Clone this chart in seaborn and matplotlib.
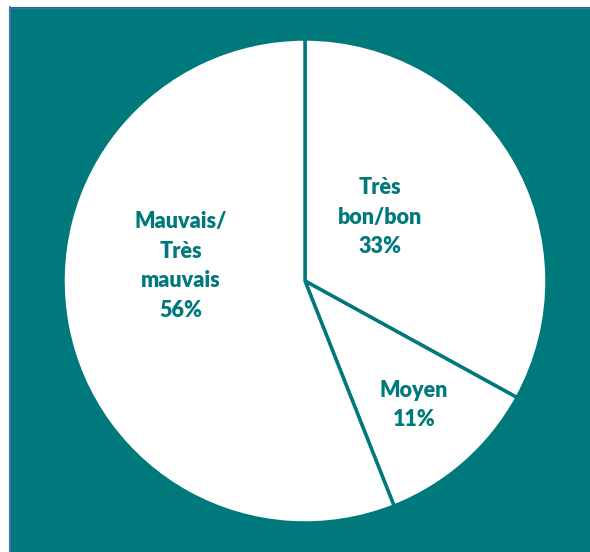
import matplotlib
matplotlib.use("Agg")
import matplotlib.pyplot as plt
import seaborn as sns
from matplotlib.patches import Rectangle

sns.set_theme(style="white")
plt.rcParams['font.family'] = ['Lato', 'DejaVu Sans']

categories = ["Très\nbon/bon", "Moyen", "Mauvais/\nTrès\nmauvais"]
values = [33, 11, 56]

TEAL = "#00797C"
W, H = 590, 552
fig = plt.figure(figsize=(W / 100, H / 100), dpi=100)
fig.patch.set_facecolor("white")

# teal background panel
bg = Rectangle((9 / W, 0), 1 - 9 / W, 1 - 7 / H, transform=fig.transFigure,
               facecolor=TEAL, edgecolor="none", zorder=-10)
fig.add_artist(bg)
fig.add_artist(plt.Line2D([9.5 / W, 9.5 / W], [0, 1 - 7 / H], transform=fig.transFigure,
                          color="#3F6FB5", lw=1.5, zorder=-5))
fig.add_artist(plt.Line2D([9.5 / W, 1], [1 - 7.5 / H, 1 - 7.5 / H], transform=fig.transFigure,
                          color="#3F6FB5", lw=1.0, zorder=-5))

cx, cy, r = 305, 281, 242
ax = fig.add_axes([(cx - r) / W, 1 - (cy + r) / H, 2 * r / W, 2 * r / H])
ax.set_zorder(1)
ax.set_facecolor("none")
ax.pie(values, startangle=90, counterclock=False, colors=["white"] * 3,
       wedgeprops=dict(edgecolor=TEAL, linewidth=2.5), radius=1)
ax.set_xlim(-1, 1)
ax.set_ylim(-1, 1)
ax.axis("off")

label_pos = [(380, 217), (414, 405), (181, 266)]
for cat, v, (px, py) in zip(categories, values, label_pos):
    t = fig.text(px / W, 1 - py / H, f"{cat}\n{v}%", ha="center", va="center",
                 color=TEAL, fontsize=15.5, fontweight="heavy", linespacing=1.5)
    t.set_zorder(10)

fig.savefig("out.png", dpi=100)
